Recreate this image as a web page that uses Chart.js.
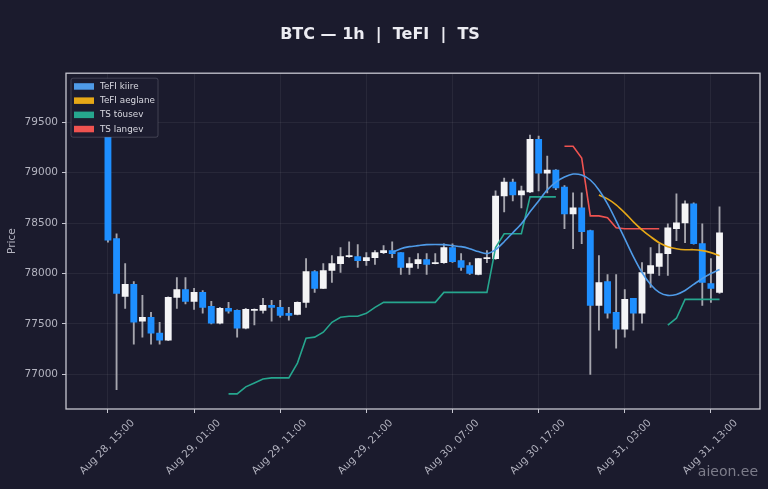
<!DOCTYPE html>
<html><head><meta charset="utf-8">
<script src="https://cdn.jsdelivr.net/npm/chart.js@4"></script>
<style>html,body{margin:0;padding:0;background:#1b1b2d;overflow:hidden}#wrap{width:768px;height:489px;position:relative}</style>
</head><body><div id="wrap"><canvas id="c" width="768" height="489"></canvas></div>
<script>
// ---- data (hourly candles, Aug 28 15:00 -> Aug 31 14:00) ----
const openV  = [79800,78345,77773,77892,77527,77567,77409,77340,77764,77842,77724,77813,77675,77507,77655,77635,77458,77635,77635,77685,77665,77606,77596,77714,78020,77852,78030,78098,78167,78167,78128,78158,78207,78227,78207,78060,78098,78138,78098,78108,78256,78128,78079,77990,78148,78148,78768,78906,78778,78808,79330,78995,79025,78857,78591,78650,78424,77685,77921,77616,77448,77754,77606,78000,78069,78197,78443,78502,78690,78296,77901,77813];
const highV  = [79833,78394,78098,77921,77783,77616,77517,77770,77960,77960,77852,77830,77724,77665,77714,77640,77655,77650,77755,77734,77734,77665,77720,78148,78030,78098,78177,78256,78315,78286,78207,78227,78276,78315,78207,78158,78197,78197,78197,78295,78295,78197,78108,78150,78227,78818,78946,78936,78867,79370,79360,79163,79030,78870,78798,78798,78430,78177,77990,77990,77842,77754,78108,78256,78295,78493,78788,78720,78700,78493,78148,78660];
const lowV   = [78310,76850,77655,77300,77370,77300,77300,77335,77655,77700,77645,77606,77500,77500,77606,77370,77450,77490,77606,77527,77567,77537,77590,77665,77813,77850,77911,78010,78160,78060,78080,78089,78197,78158,77990,77990,78050,77990,78095,78100,78110,78030,77990,77985,78108,78140,78610,78720,78650,78800,78818,78798,78830,78443,78246,78296,77000,77438,77557,77261,77370,77438,77507,77862,77980,77980,78325,78305,78290,77685,77714,77803];
const closeV = [78330,77803,77892,77517,77567,77409,77340,77764,77842,77724,77813,77665,77507,77655,77626,77458,77645,77645,77685,77665,77586,77586,77714,78020,77852,78030,78098,78167,78175,78128,78158,78207,78227,78197,78060,78098,78138,78089,78108,78256,78118,78060,78000,78148,78158,78768,78906,78778,78818,79330,78995,79025,78847,78591,78650,78414,77685,77911,77606,77448,77744,77606,78010,78079,78197,78453,78502,78690,78296,77911,77852,78404];

const N = null;
const tefiFast = [N,N,N,N,N,N,N,N,N,N,N,N,N,N,N,N,N,N,N,N,N,N,N,N,N,N,N,N,N,N,N,N,N,
  78207,78246,78266,78276,78286,78288,78286,78276,78266,78246,78217,78197,78236,78315,78404,78493,78611,78719,78828,78906,78956,78985,78975,78926,78828,78690,78522,78345,78167,78010,77892,77813,77783,77793,77832,77892,77951,78000,78040];
const tefiSlow = [N,N,N,N,N,N,N,N,N,N,N,N,N,N,N,N,N,N,N,N,N,N,N,N,N,N,N,N,N,N,N,N,N,N,N,N,N,N,N,N,N,N,N,N,N,N,N,N,N,N,N,N,N,N,N,N,N,
  78778,78739,78680,78601,78512,78433,78365,78305,78266,78246,78236,78236,78227,78207,78177];
const tsUp = [N,N,N,N,N,N,N,N,N,N,N,N,N,N,
  76808,76808,76877,76916,76956,76966,76966,76966,77113,77360,77370,77419,77517,77567,77577,77577,77606,77665,77714,77714,77714,77714,77714,77714,77714,77813,77813,77813,77813,77813,77813,78256,78394,78394,78394,78759,78759,78759,78759,
  N,N,N,N,N,N,N,N,N,N,N,N,
  77488,77557,77744,77744,77744,77744,77744];
const tsDown = [N,N,N,N,N,N,N,N,N,N,N,N,N,N,N,N,N,N,N,N,N,N,N,N,N,N,N,N,N,N,N,N,N,N,N,N,N,N,N,N,N,N,N,N,N,N,N,N,N,N,N,N,N,
  79261,79261,79143,78571,78571,78552,78453,78443,78443,78443,78443,78443,
  N,N,N,N,N,N,N];

const tickPos    = [0,10,20,30,40,50,60,70];
const tickLabels = ['Aug 28, 15:00','Aug 29, 01:00','Aug 29, 11:00','Aug 29, 21:00','Aug 30, 07:00','Aug 30, 17:00','Aug 31, 03:00','Aug 31, 13:00'];
const yTicks     = [77000,77500,78000,78500,79000,79500];
const seriesNames = ['TeFI kiire','TeFI aeglane','TS tõusev','TS langev'];

// ---- styling ----
const BG='#1b1b2d', TXT='#b4b4c0', FRAME='#c6c6d0';
const UP='#f4f4f6', DOWN='#1e8fff', WICK='#a6a6ae';
const lineCols=['#4f9be8','#e6a817','#26a68e','#ef5350'];
const idx = openV.map((_,i)=>i);

const lineDs = (label, arr, col, tension) => ({
  type:'line', label, data: idx.map(i=>({x:i,y:arr[i]})), borderColor:col, backgroundColor:col,
  borderWidth:1.6, pointRadius:0, tension, spanGaps:false, order:1, isLegend:true
});

const bgPlugin={id:'bg',beforeDraw(c){const x=c.ctx;x.save();x.fillStyle=BG;x.fillRect(0,0,c.width,c.height);x.restore();}};
const framePlugin={id:'frame',afterDraw(c){
  const x=c.ctx,a=c.chartArea;x.save();
  x.strokeStyle=FRAME;x.lineWidth=1.3;x.strokeRect(a.left,a.top,a.right-a.left,a.bottom-a.top);
  // legend
  const items=c.data.datasets.filter(d=>d.isLegend);
  const bx=a.left+5,by=a.top+5,bw=87,bh=59;
  x.fillStyle='#1c1c2f';x.strokeStyle='rgba(200,200,215,0.28)';x.lineWidth=0.8;
  x.beginPath();x.roundRect(bx,by,bw,bh,2);x.fill();x.stroke();
  x.font='8.8px "DejaVu Sans"';x.textBaseline='middle';x.textAlign='left';
  items.forEach((d,k)=>{const yy=by+8+k*14.2;
    x.fillStyle=d.borderColor;x.fillRect(bx+3,yy-3,20,6.5);
    x.fillStyle='#d8d8e0';x.fillText(d.label,bx+29,yy+0.5);});
  // watermark
  x.font='14px "DejaVu Sans"';x.fillStyle='rgba(190,190,200,0.6)';x.textAlign='right';
  x.fillText('aieon.ee',758,472);
  x.restore();}};

new Chart(document.getElementById('c'),{
  type:'bar',
  data:{datasets:[
    lineDs(seriesNames[0],tefiFast,lineCols[0],0.3),
    lineDs(seriesNames[1],tefiSlow,lineCols[1],0.3),
    lineDs(seriesNames[2],tsUp,lineCols[2],0),
    lineDs(seriesNames[3],tsDown,lineCols[3],0),
    {type:'bar',label:'wick',data:idx.map(i=>({x:i,y:[lowV[i],highV[i]]})),backgroundColor:WICK,barThickness:1.2,grouped:false,order:3},
    {type:'bar',label:'body',data:idx.map(i=>({x:i,y:[openV[i],closeV[i]]})),
     backgroundColor:idx.map(i=>closeV[i]>=openV[i]?UP:DOWN),barThickness:6.2,grouped:false,minBarLength:1,order:2}
  ]},
  options:{
    responsive:false,animation:false,
    layout:{padding:{left:0,right:8,top:0,bottom:0}},
    plugins:{
      legend:{display:false},tooltip:{enabled:false},
      title:{display:true,text:'BTC — 1h  |  TeFI  |  TS',color:'#ececf2',
        font:{family:'DejaVu Sans',size:16,weight:'bold'},padding:{top:25,bottom:29}}
    },
    scales:{
      x:{type:'linear',min:-4.87,max:75.7,offset:false,
        afterBuildTicks:ax=>{ax.ticks=tickPos.map(v=>({value:v}));},
        afterFit:s=>{s.height=80;},
        grid:{offset:false,color:'rgba(255,255,255,0.06)',tickColor:FRAME,tickLength:4,drawTicks:true},
        border:{display:false},
        ticks:{autoSkip:false,minRotation:45,maxRotation:45,color:TXT,padding:4,labelOffset:25,
          font:{family:'DejaVu Sans',size:10.3},
          callback:v=>{const k=tickPos.indexOf(v);return k>=0?tickLabels[k]:'';}}},
      y:{type:'linear',min:76658,max:79984,
        afterBuildTicks:ax=>{ax.ticks=yTicks.map(v=>({value:v}));},
        afterFit:s=>{s.width=66;},
        grid:{color:'rgba(255,255,255,0.06)',tickColor:FRAME,tickLength:4,drawTicks:true},
        border:{display:false},
        title:{display:true,text:'Price',color:TXT,font:{family:'DejaVu Sans',size:10.5},padding:{top:6,bottom:0}},
        ticks:{color:TXT,padding:4,font:{family:'DejaVu Sans',size:10.5},callback:v=>String(v)}}
    }
  },
  plugins:[bgPlugin,framePlugin]
});
</script></body></html>
